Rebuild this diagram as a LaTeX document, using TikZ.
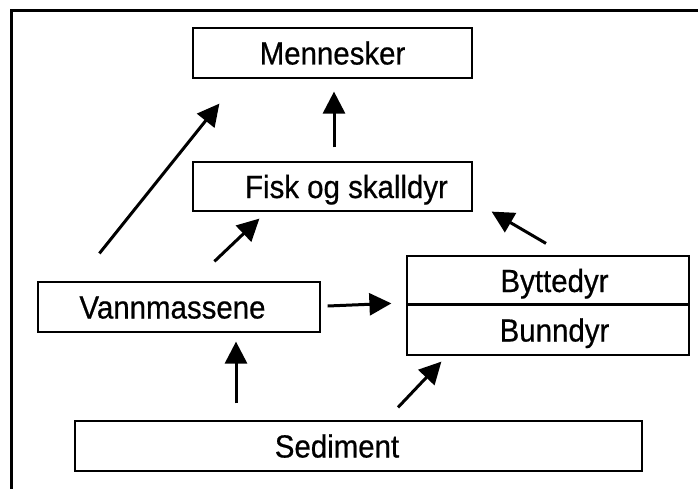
\documentclass[tikz,border=0pt]{standalone}
\usepackage{fontspec}
\setmainfont{Liberation Sans}[FakeStretch=0.92, FakeBold=0.6]
\usetikzlibrary{arrows.meta}
\begin{document}
\begin{tikzpicture}[x=1pt, y=1pt,
  box/.style={draw, line width=1.2pt, inner sep=0pt, minimum height=50pt,
    text height=23pt, text depth=0pt, font=\fontsize{32}{36}\selectfont},
  flow/.style={line width=3pt, -{Triangle[length=22pt,width=22pt]}}]
  \useasboundingbox (0,0) rectangle (698,488);
  \draw[line width=3pt] (11,-20) rectangle (720,477);
  \node[box, minimum width=279pt] (menn) at (332.5,435) {Mennesker};
  \node[box, minimum width=279pt, minimum height=49pt] (fisk) at (332.5,301.5) {\hspace*{28pt}Fisk og skalldyr};
  \node[box, minimum width=282pt] (vann) at (179,181) {Vannmassene\hspace*{13pt}};
  \node[box, minimum width=282pt, minimum height=49pt] (bytte) at (548,207.5) {\hspace*{13pt}Byttedyr};
  \node[box, minimum width=282pt] (bunn) at (548,158) {\hspace*{13pt}Bunndyr};
  \node[box, minimum width=567pt] (sed) at (358.5,42) {Sediment\hspace*{43pt}};
  \draw[line width=2.5pt] (bunn.north west) -- (bunn.north east);
  \draw[flow] ([shift={(62,28)}]vann.north west) -- ([shift={(27,-25)}]menn.south west);
  \draw[flow] ([shift={(1.5,14)}]fisk.north) -- ([shift={(1.5,-13)}]menn.south);
  \draw[flow] ([shift={(177,20)}]vann.north west) -- ([shift={(67,-7)}]fisk.south west);
  \draw[flow] ([shift={(-2,12)}]bytte.north) -- ([shift={(19,0)}]fisk.south east);
  \draw[flow] ([shift={(7,1)}]vann.east) -- ([shift={(-15,1)}]bunn.north west);
  \draw[flow] ([shift={(-122.5,17)}]sed.north) -- ([shift={(57,-9)}]vann.south);
  \draw[flow] ([shift={(39.5,13)}]sed.north) -- ([shift={(35,-6)}]bunn.south west);
\end{tikzpicture}
\end{document}
